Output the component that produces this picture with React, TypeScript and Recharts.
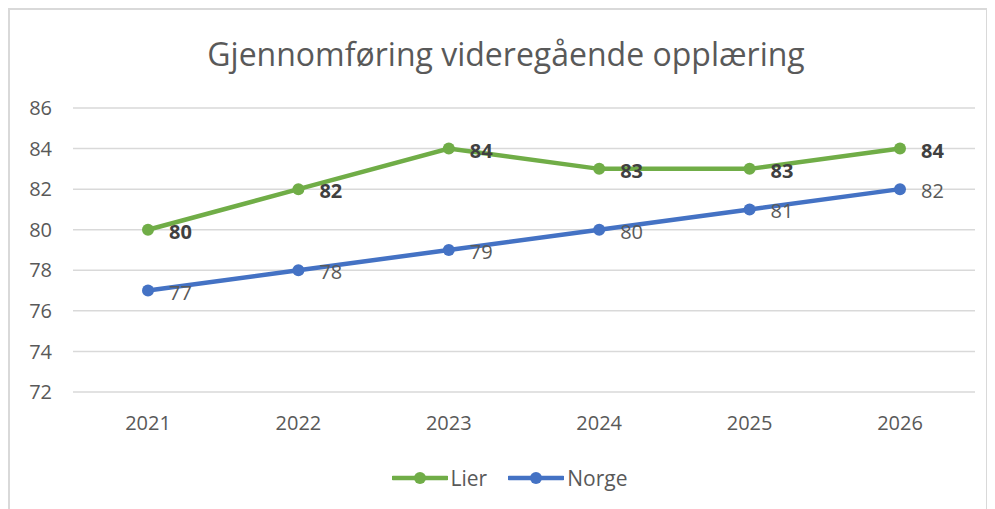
import React from 'react';
import { LineChart, Line, XAxis, YAxis, CartesianGrid, Legend, LabelList } from 'recharts';

const years = ['2021', '2022', '2023', '2024', '2025', '2026'];
const lier = [80, 82, 84, 83, 83, 84];
const norge = [77, 78, 79, 80, 81, 82];
const yTicks = [72, 74, 76, 78, 80, 82, 84, 86];

const data = years.map((year, i) => ({ year, Lier: lier[i], Norge: norge[i] }));

const FONT = '"Open Sans", sans-serif';
const GREEN = '#70ad47';
const BLUE = '#4472c4';

const makeLabel = (bold: boolean) => (props: any) => {
  const { x, y, value } = props;
  return (
    <text
      x={x + 21}
      y={y + 2}
      dy="0.35em"
      fontFamily={FONT}
      fontSize={20}
      fontWeight={bold ? 700 : 400}
      fill={bold ? '#404040' : '#595959'}
    >
      {value}
    </text>
  );
};

const renderLegend = (props: any) => {
  const { payload } = props;
  return (
    <div
      style={{
        display: 'flex',
        justifyContent: 'center',
        height: 40,
        paddingLeft: 34,
        fontFamily: FONT,
        fontSize: 21,
        color: '#595959',
      }}
    >
      {payload.map((entry: any, i: number) => (
        <div
          key={entry.value}
          style={{ display: 'flex', alignItems: 'center', marginLeft: i > 0 ? 21 : 0, height: 24 }}
        >
          <svg width={56} height={14} style={{ marginRight: 3 }}>
            <line x1={1} y1={7} x2={55} y2={7} stroke={entry.color} strokeWidth={4.5} strokeLinecap="round" />
            <circle cx={28} cy={7} r={6} fill={entry.color} />
          </svg>
          <span>{entry.value}</span>
        </div>
      ))}
    </div>
  );
};

export default function App() {
  return (
    <div
      style={{
        position: 'relative',
        width: 980,
        height: 510,
        border: '2px solid #d9d9d9',
        boxSizing: 'border-box',
        background: '#fff',
      }}
    >
      <div
        style={{
          position: 'absolute',
          top: 22,
          left: 16,
          width: 960,
          textAlign: 'center',
          fontFamily: FONT,
          fontSize: 32,
          color: '#595959',
        }}
      >
        Gjennomføring videregående opplæring
      </div>
      <LineChart width={976} height={506} data={data} margin={{ top: 98, right: 11, bottom: 10, left: 0 }}>
        <CartesianGrid vertical={false} stroke="#d9d9d9" strokeWidth={1.5} />
        <XAxis
          dataKey="year"
          axisLine={false}
          tickLine={false}
          padding={{ left: 75, right: 75 }}
          tickMargin={18}
          height={74}
          tick={{ fontFamily: FONT, fontSize: 20, fill: '#595959' }}
        />
        <YAxis
          domain={[72, 86]}
          ticks={yTicks}
          axisLine={false}
          tickLine={false}
          tickMargin={15}
          width={63}
          tick={{ fontFamily: FONT, fontSize: 20, fill: '#595959' }}
        />
        <Legend verticalAlign="bottom" height={40} content={renderLegend} />
        <Line
          dataKey="Lier"
          stroke={GREEN}
          strokeWidth={4.5}
          dot={{ r: 6, fill: GREEN, stroke: 'none' }}
          isAnimationActive={false}
        >
          <LabelList dataKey="Lier" content={makeLabel(true)} />
        </Line>
        <Line
          dataKey="Norge"
          stroke={BLUE}
          strokeWidth={4.5}
          dot={{ r: 6, fill: BLUE, stroke: 'none' }}
          isAnimationActive={false}
        >
          <LabelList dataKey="Norge" content={makeLabel(false)} />
        </Line>
      </LineChart>
    </div>
  );
}
